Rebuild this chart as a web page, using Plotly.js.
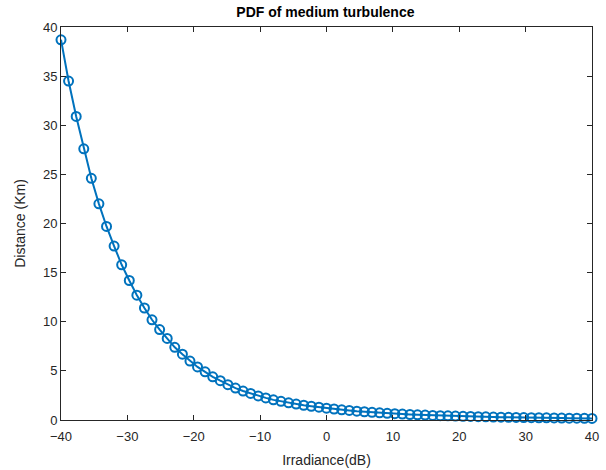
<!DOCTYPE html>
<html>
<head>
<meta charset="utf-8">
<script src="https://cdn.plot.ly/plotly-3.0.1.min.js"></script>
<style>html,body{margin:0;padding:0;background:#fff;}#chart{width:606px;height:470px;}</style>
</head>
<body>
<div id="chart"></div>
<script>
const irradiance = [-40.00,-38.86,-37.71,-36.57,-35.43,-34.29,-33.14,-32.00,-30.86,-29.71,
  -28.57,-27.43,-26.29,-25.14,-24.00,-22.86,-21.71,-20.57,-19.43,-18.29,
  -17.14,-16.00,-14.86,-13.71,-12.57,-11.43,-10.29,-9.14,-8.00,-6.86,
  -5.71,-4.57,-3.43,-2.29,-1.14,0.00,1.14,2.29,3.43,4.57,
  5.71,6.86,8.00,9.14,10.29,11.43,12.57,13.71,14.86,16.00,
  17.14,18.29,19.43,20.57,21.71,22.86,24.00,25.14,26.29,27.43,
  28.57,29.71,30.86,32.00,33.14,34.29,35.43,36.57,37.71,38.86,40.00];
const distance = [38.7,34.5,30.9,27.6,24.6,22.0,19.7,17.7,15.8,14.2,
  12.7,11.4,10.2,9.2,8.3,7.4,6.7,6.0,5.4,4.9,
  4.4,4.0,3.6,3.25,2.95,2.7,2.45,2.25,2.05,1.9,
  1.75,1.62,1.5,1.4,1.3,1.2,1.12,1.04,0.97,0.9,
  0.84,0.78,0.73,0.68,0.64,0.6,0.56,0.53,0.5,0.47,
  0.44,0.42,0.4,0.38,0.36,0.34,0.32,0.3,0.29,0.27,
  0.26,0.25,0.24,0.23,0.22,0.21,0.2,0.19,0.18,0.17,0.16];
const xTicks = [-40,-30,-20,-10,0,10,20,30,40];
const yTicks = [0,5,10,15,20,25,30,35,40];

const trace = {
  x: irradiance, y: distance, type: 'scatter', mode: 'lines+markers',
  line: {color: '#0072BD', width: 2},
  marker: {symbol: 'circle-open', size: 9, color: '#0072BD', line: {width: 2, color: '#0072BD'}},
  cliponaxis: false, showlegend: false
};
const axisCommon = {
  showgrid: false, zeroline: false, showline: true, mirror: 'ticks',
  linecolor: '#262626', linewidth: 1, ticks: 'inside', ticklen: 5, tickwidth: 1, tickcolor: '#262626',
  tickfont: {family: 'Liberation Sans, Arial, sans-serif', size: 13, color: '#262626'}
};
const layout = {
  width: 606, height: 470,
  margin: {l: 61, r: 14, t: 27, b: 50},
  paper_bgcolor: '#fff', plot_bgcolor: '#fff',
  title: {text: '<b>PDF of medium turbulence</b>', x: 0.537, xanchor: 'center', y: 0.975, yanchor: 'middle',
    font: {family: 'Liberation Sans, Arial, sans-serif', size: 14, color: '#000'}},
  xaxis: Object.assign({}, axisCommon, {range: [-40, 40], tickvals: xTicks, ticklabelstandoff: 4,
    title: {text: 'Irradiance(dB)', standoff: 12, font: {family: 'Liberation Sans, Arial, sans-serif', size: 14, color: '#262626'}}}),
  yaxis: Object.assign({}, axisCommon, {range: [0, 40], tickvals: yTicks,
    title: {text: 'Distance (Km)', standoff: 14, font: {family: 'Liberation Sans, Arial, sans-serif', size: 14, color: '#262626'}}})
};
Plotly.newPlot('chart', [trace], layout, {displayModeBar: false, staticPlot: true});
</script>
</body>
</html>
